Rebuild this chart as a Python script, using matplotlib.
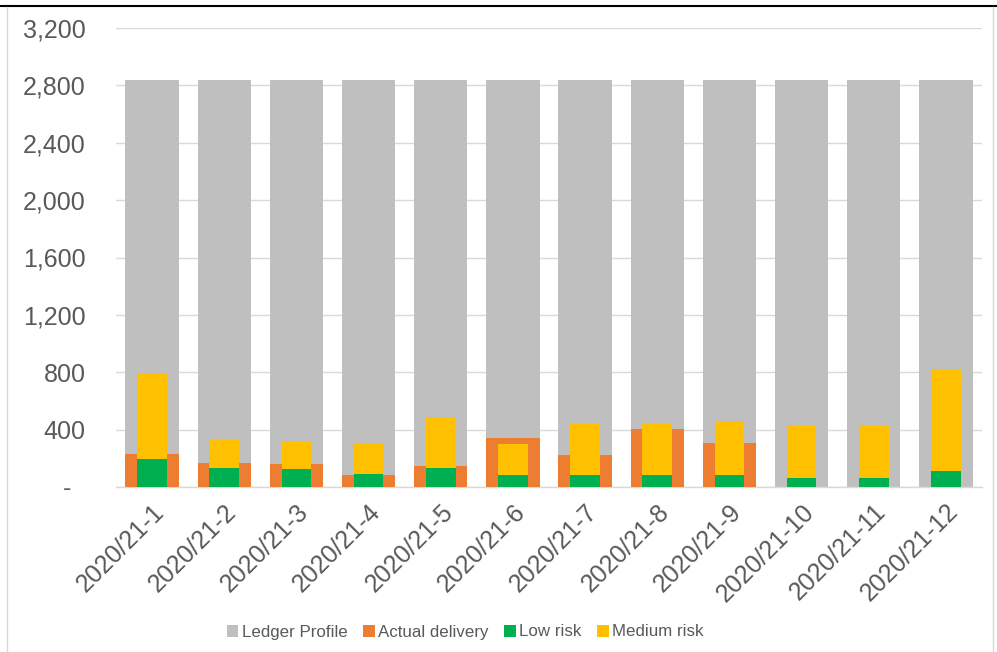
import numpy as np
import matplotlib.pyplot as plt
from matplotlib.lines import Line2D
from matplotlib.ticker import FuncFormatter

plt.rcParams['font.family'] = ['Liberation Sans', 'DejaVu Sans']

periods = ['2020/21-1', '2020/21-2', '2020/21-3', '2020/21-4', '2020/21-5', '2020/21-6',
           '2020/21-7', '2020/21-8', '2020/21-9', '2020/21-10', '2020/21-11', '2020/21-12']
ledger_profile = [2840] * 12
actual_delivery = [230, 165, 158, 82, 146, 342, 223, 404, 307, 0, 0, 0]
low_risk = [195, 130, 123, 89, 130, 86, 81, 81, 81, 60, 60, 109]
medium_risk = [598, 198, 198, 211, 360, 214, 368, 368, 377, 368, 368, 714]

c_grey = '#bfbfbf'
c_orange = '#ed7d31'
c_green = '#00b050'
c_yellow = '#ffc000'
txt = '#595959'

fig = plt.figure(figsize=(9.97, 6.52), dpi=100)
ax = fig.add_axes([116 / 997, 1 - 487 / 652, 866 / 997, 459 / 652])

x = np.arange(len(periods))
wide, narrow = 0.74, 0.41
ax.bar(x, ledger_profile, width=wide, color=c_grey, label='Ledger Profile', zorder=2)
ax.bar(x, actual_delivery, width=wide, color=c_orange, label='Actual delivery', zorder=3)
ax.bar(x, low_risk, width=narrow, color=c_green, label='Low risk', zorder=4)
ax.bar(x, medium_risk, width=narrow, bottom=low_risk, color=c_yellow, label='Medium risk', zorder=4)

ax.set_xlim(-0.5, len(periods) - 0.5)
ax.set_ylim(0, 3200)
ax.set_yticks(np.arange(0, 3201, 400))
ax.yaxis.set_major_formatter(FuncFormatter(lambda v, p: '-  ' if v == 0 else f'{v:,.0f}'))
ax.grid(axis='y', color='#d9d9d9', linewidth=1.0, zorder=0)
ax.set_axisbelow(True)

for side in ['top', 'right', 'left']:
    ax.spines[side].set_visible(False)
ax.spines['bottom'].set_color('#d9d9d9')
ax.spines['bottom'].set_linewidth(1.0)

ax.tick_params(axis='y', length=0, pad=22, labelsize=18, labelcolor=txt)
ax.tick_params(axis='x', length=0, pad=9, labelsize=18, labelcolor=txt)
ax.set_xticks(x)
ax.set_xticklabels(periods, rotation=45, ha='right', rotation_mode='anchor')

handles, labels = ax.get_legend_handles_labels()
leg = fig.legend(handles, labels, loc='center', bbox_to_anchor=(465 / 997, 1 - 632 / 652),
                 ncol=4, frameon=False, fontsize=12.2, handlelength=0.7, handleheight=0.7,
                 handletextpad=0.2, columnspacing=0.9, labelcolor=txt)

# outer chart frame
fig.add_artist(Line2D([0, 1], [1 - 6 / 652, 1 - 6 / 652], transform=fig.transFigure, color='black', lw=1.5))
fig.add_artist(Line2D([7 / 997, 7 / 997], [0, 1 - 7 / 652], transform=fig.transFigure, color='#d9d9d9', lw=1))
fig.add_artist(Line2D([993 / 997, 993 / 997], [0, 1 - 7 / 652], transform=fig.transFigure, color='#d9d9d9', lw=1))

fig.savefig('out.png', dpi=100)
